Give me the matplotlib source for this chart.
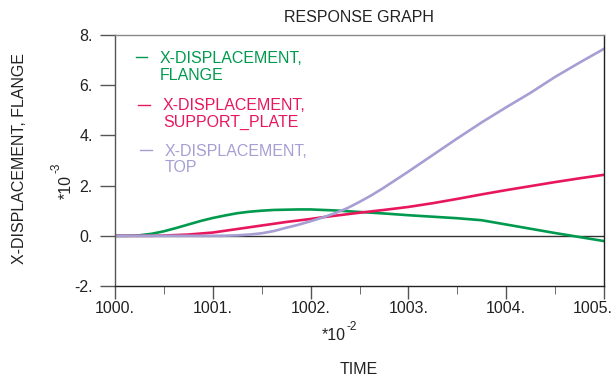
import matplotlib
matplotlib.use("Agg")
import matplotlib.pyplot as plt
from matplotlib.ticker import MultipleLocator
from matplotlib.transforms import ScaledTranslation

plt.rcParams['font.family'] = ['Liberation Sans', 'DejaVu Sans']

time = [1000.0, 1000.125, 1000.25, 1000.375, 1000.5, 1000.625, 1000.75, 1000.875,
        1001.0, 1001.125, 1001.25, 1001.375, 1001.5, 1001.625, 1001.75, 1001.875,
        1002.0, 1002.125, 1002.25, 1002.375, 1002.5, 1002.625, 1002.75, 1002.875,
        1003.0, 1003.25, 1003.5, 1003.75, 1004.0, 1004.25, 1004.5, 1004.75, 1005.0]
flange = [0.0, 0.0, 0.02, 0.08, 0.18, 0.31, 0.45, 0.59,
          0.71, 0.81, 0.90, 0.96, 1.00, 1.03, 1.04, 1.05,
          1.05, 1.03, 1.01, 0.98, 0.95, 0.92, 0.89, 0.855,
          0.82, 0.76, 0.70, 0.62, 0.45, 0.28, 0.11, -0.05, -0.21]
support_plate = [0.0, 0.0, 0.0, 0.0, 0.01, 0.03, 0.05, 0.09,
                 0.13, 0.20, 0.27, 0.34, 0.41, 0.48, 0.55, 0.61,
                 0.67, 0.74, 0.80, 0.86, 0.92, 0.975, 1.03, 1.09,
                 1.15, 1.30, 1.47, 1.65, 1.82, 1.98, 2.14, 2.29, 2.43]
top = [0.0, 0.0, 0.0, 0.0, 0.0, 0.0, 0.0, 0.0,
       0.0, 0.005, 0.02, 0.05, 0.10, 0.19, 0.32, 0.44,
       0.58, 0.73, 0.90, 1.10, 1.35, 1.62, 1.92, 2.24,
       2.56, 3.22, 3.88, 4.52, 5.12, 5.70, 6.33, 6.90, 7.45]

series_names = [["X-DISPLACEMENT,", "FLANGE"],
                ["X-DISPLACEMENT,", "SUPPORT_PLATE"],
                ["X-DISPLACEMENT,", "TOP"]]
colors = ["#009a4e", "#e8175d", "#a59fd4"]
yticks = [-2, 0, 2, 4, 6, 8]
xticks = [1000, 1001, 1002, 1003, 1004, 1005]

W, H = 616, 378
fig = plt.figure(figsize=(W / 100, H / 100), dpi=100)
ax = fig.add_axes([115 / W, (H - 286) / H, (604 - 115) / W, (286 - 35) / H])

ax.axhline(0, color="#333333", lw=1.0, zorder=1)
for y, c in zip([flange, support_plate, top], colors):
    ax.plot(time, y, color=c, lw=1.9, zorder=2)

ax.set_xlim(1000, 1005)
ax.set_ylim(-2, 8)
ax.set_xticks(xticks)
ax.set_xticklabels([f"{t}." for t in xticks])
ax.set_yticks(yticks)
ax.set_yticklabels([f"{t}." for t in yticks])
ax.xaxis.set_minor_locator(MultipleLocator(0.5))
ax.tick_params(axis='both', which='major', direction='out', labelsize=11.5,
               color='#555555', width=1.0, labelcolor='#222222')
ax.tick_params(axis='y', length=11, pad=5)
ax.tick_params(axis='x', length=9, pad=2)
ax.tick_params(axis='x', which='minor', length=6, direction='out', color='#555555')
ax.tick_params(axis='y', which='minor', left=False)
# keep the last x tick label inside the figure, as in the reference
lab = ax.get_xticklabels()[-1]
lab.set_horizontalalignment('right')
lab.set_transform(lab.get_transform() + ScaledTranslation(9 / 100, 0, fig.dpi_scale_trans))

ax.spines['top'].set_color('#888888')
ax.spines['left'].set_color('#555555')
ax.spines['right'].set_color('#222222')
ax.spines['bottom'].set_color('#222222')
for s in ax.spines.values():
    s.set_linewidth(1.0)

fs = 11.5
# legend drawn manually
leg_line_x = [(136, 147), (138, 150), (140, 152)]
leg_line_y = [57, 105, 150]
text_x = [160, 163, 165]
text_y = [(58.5, 75), (106, 122.5), (152, 167.5)]
for i in range(3):
    x0, x1 = leg_line_x[i]
    fig.add_artist(plt.Line2D([x0 / W, x1 / W], [1 - leg_line_y[i] / H] * 2,
                              color=colors[i], lw=1.0, transform=fig.transFigure))
    for j, line in enumerate(series_names[i]):
        fig.text(text_x[i] / W, 1 - text_y[i][j] / H, line, color=colors[i],
                 fontsize=fs, ha='left', va='center')

tc = '#222222'
fig.text(359 / W, 1 - 17.5 / H, "RESPONSE GRAPH", fontsize=fs, ha='center',
         va='center', color=tc)
fig.text(20 / W, 1 - 158 / H, "X-DISPLACEMENT, FLANGE", fontsize=fs, ha='center',
         va='center', rotation=90, color=tc)
fig.text(66 / W, 1 - 187 / H, "*10", fontsize=fs, ha='center', va='center',
         rotation=90, color=tc)
fig.text(57 / W, 1 - 168 / H, "-3", fontsize=8.5, ha='center', va='center',
         rotation=90, color=tc)
fig.text(334 / W, 1 - 336 / H, "*10", fontsize=fs, ha='center', va='center', color=tc)
fig.text(352 / W, 1 - 327 / H, "-2", fontsize=8.5, ha='center', va='center', color=tc)
fig.text(359 / W, 1 - 369 / H, "TIME", fontsize=fs, ha='center', va='center',
         color=tc)

fig.savefig("out.png", dpi=100)
